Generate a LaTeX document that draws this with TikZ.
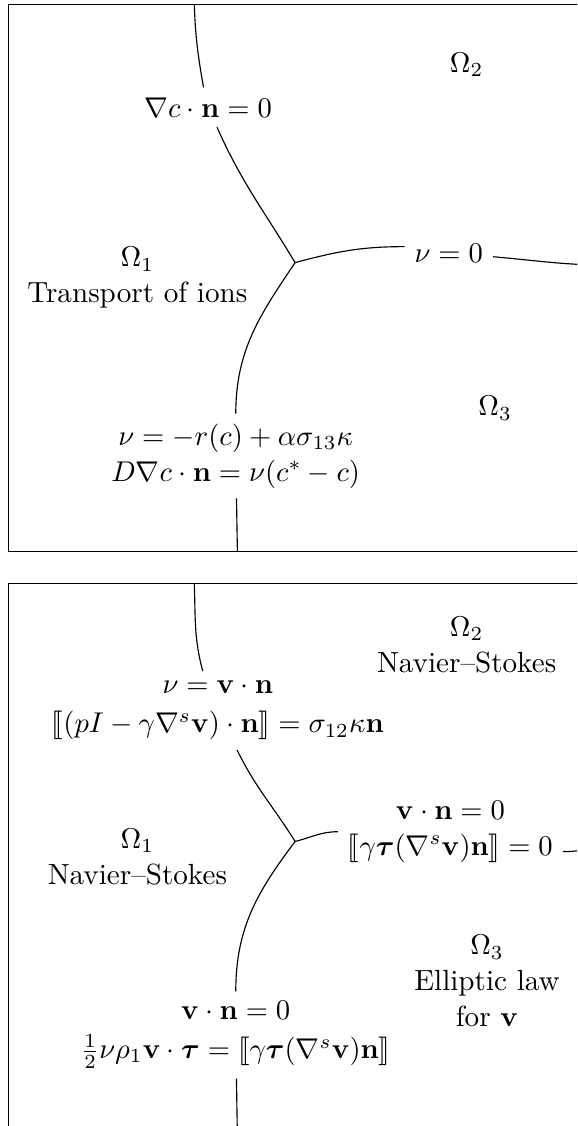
\documentclass[tikz,border=0pt]{standalone}
\usepackage{amsmath}
\usepackage{stmaryrd}

\begin{document}
\begin{tikzpicture}[
    panel/.style={
        draw=black,
        line width=.4pt
    },
    iface/.style={
        draw=black,
        line width=.4pt
    },
    bcnode/.style={
        align=center,
        inner sep=3.33pt,
        font=\fontsize{10.2}{12.6}\selectfont
    },
    regionlabel/.style={
        align=center,
        font=\fontsize{10.2}{12.6}\selectfont
    }
]

\useasboundingbox (0,0) rectangle (7.10,-13.85);
\clip (0,0) rectangle (7.10,-13.85);

% ------------------------------------------------
% Top panel: transport of ions
% ------------------------------------------------
\draw[panel] (0.10,-0.06) rectangle (7.60,-6.78);

\coordinate (top1)   at (2.39,-0.06);
\coordinate (J1)     at (3.63,-3.23);
\coordinate (right1) at (7.30,-3.26);
\coordinate (bot1)   at (2.92,-6.78);

\node[bcnode] (gradc)  at (2.56,-1.32) {$\nabla c\cdot\mathbf{n}=0$};
\node[bcnode] (nu0)    at (5.52,-3.11) {$\nu=0$};
\node[bcnode] (chem13) at (2.90,-5.61) {$\nu=-r(c)+\alpha\sigma_{13}\kappa$\\
                                         $D\nabla c\cdot\mathbf{n}=\nu(c^*-c)$};

\node[regionlabel] (om1) at (1.69,-3.42) {$\Omega_1$\\Transport of ions};
\node[regionlabel] (om2) at (5.74,-0.80) {$\Omega_2$};
\node[regionlabel] (om3) at (6.09,-5.02) {$\Omega_3$};

\draw[iface] (top1) to[out=-88, in=100] (gradc.103);
\draw[iface] (gradc) to[out=-66, in=121] (J1);
\draw[iface] (J1) to[out=15, in=180] (nu0.172);
\draw[iface] (nu0) to[out=-5, in=178] (right1);
\draw[iface] (J1) to[out=236, in=90] (chem13);
\draw[iface] (chem13) -- (bot1);

% ------------------------------------------------
% Bottom panel: flow
% ------------------------------------------------
\draw[panel] (0.10,-7.18) rectangle (7.60,-14.20);

\coordinate (top2)   at (2.39,-7.18);
\coordinate (J2)     at (3.63,-10.35);
\coordinate (right2) at (7.30,-10.45);
\coordinate (bot2)   at (2.92,-14.00);

\node[bcnode] (stress12) at (2.68,-8.74) {$\nu=\mathbf{v}\cdot\mathbf{n}$\\[1pt]
    $\llbracket(pI-\gamma\nabla^s\mathbf{v})\cdot\mathbf{n}\rrbracket=\sigma_{12}\kappa\mathbf{n}$};
\node[bcnode] (slip23) at (5.54,-10.23) {$\mathbf{v}\cdot\mathbf{n}=0$\\
    $\llbracket\gamma\boldsymbol{\tau}(\nabla^s\mathbf{v})\mathbf{n}\rrbracket=0$};
\node[bcnode] (slip13) at (2.90,-12.73) {$\mathbf{v}\cdot\mathbf{n}=0$\\[1pt]
    $\frac{1}{2}\nu\rho_1\mathbf{v}\cdot\boldsymbol{\tau}=\llbracket\gamma\boldsymbol{\tau}(\nabla^s\mathbf{v})\mathbf{n}\rrbracket$};

\node[regionlabel] (om1b) at (1.69,-10.54) {$\Omega_1$\\Navier--Stokes};
\node[regionlabel] (om2b) at (5.74,-7.93)  {$\Omega_2$\\Navier--Stokes};
\node[regionlabel] (om3b) at (5.99,-12.07) {$\Omega_3$\\Elliptic law\\for $\mathbf{v}$};

\draw[iface] (top2) to[out=-88, in=105] (stress12.111);
\draw[iface] (stress12) to[out=-64, in=122] (J2);
\draw[iface] (J2) to[out=14, in=180] (slip23);
\draw[iface] (slip23.-10) to[out=-2, in=180] (right2);
\draw[iface] (J2) to[out=233, in=90] (slip13);
\draw[iface] (slip13) -- (bot2);

\end{tikzpicture}
\end{document}
